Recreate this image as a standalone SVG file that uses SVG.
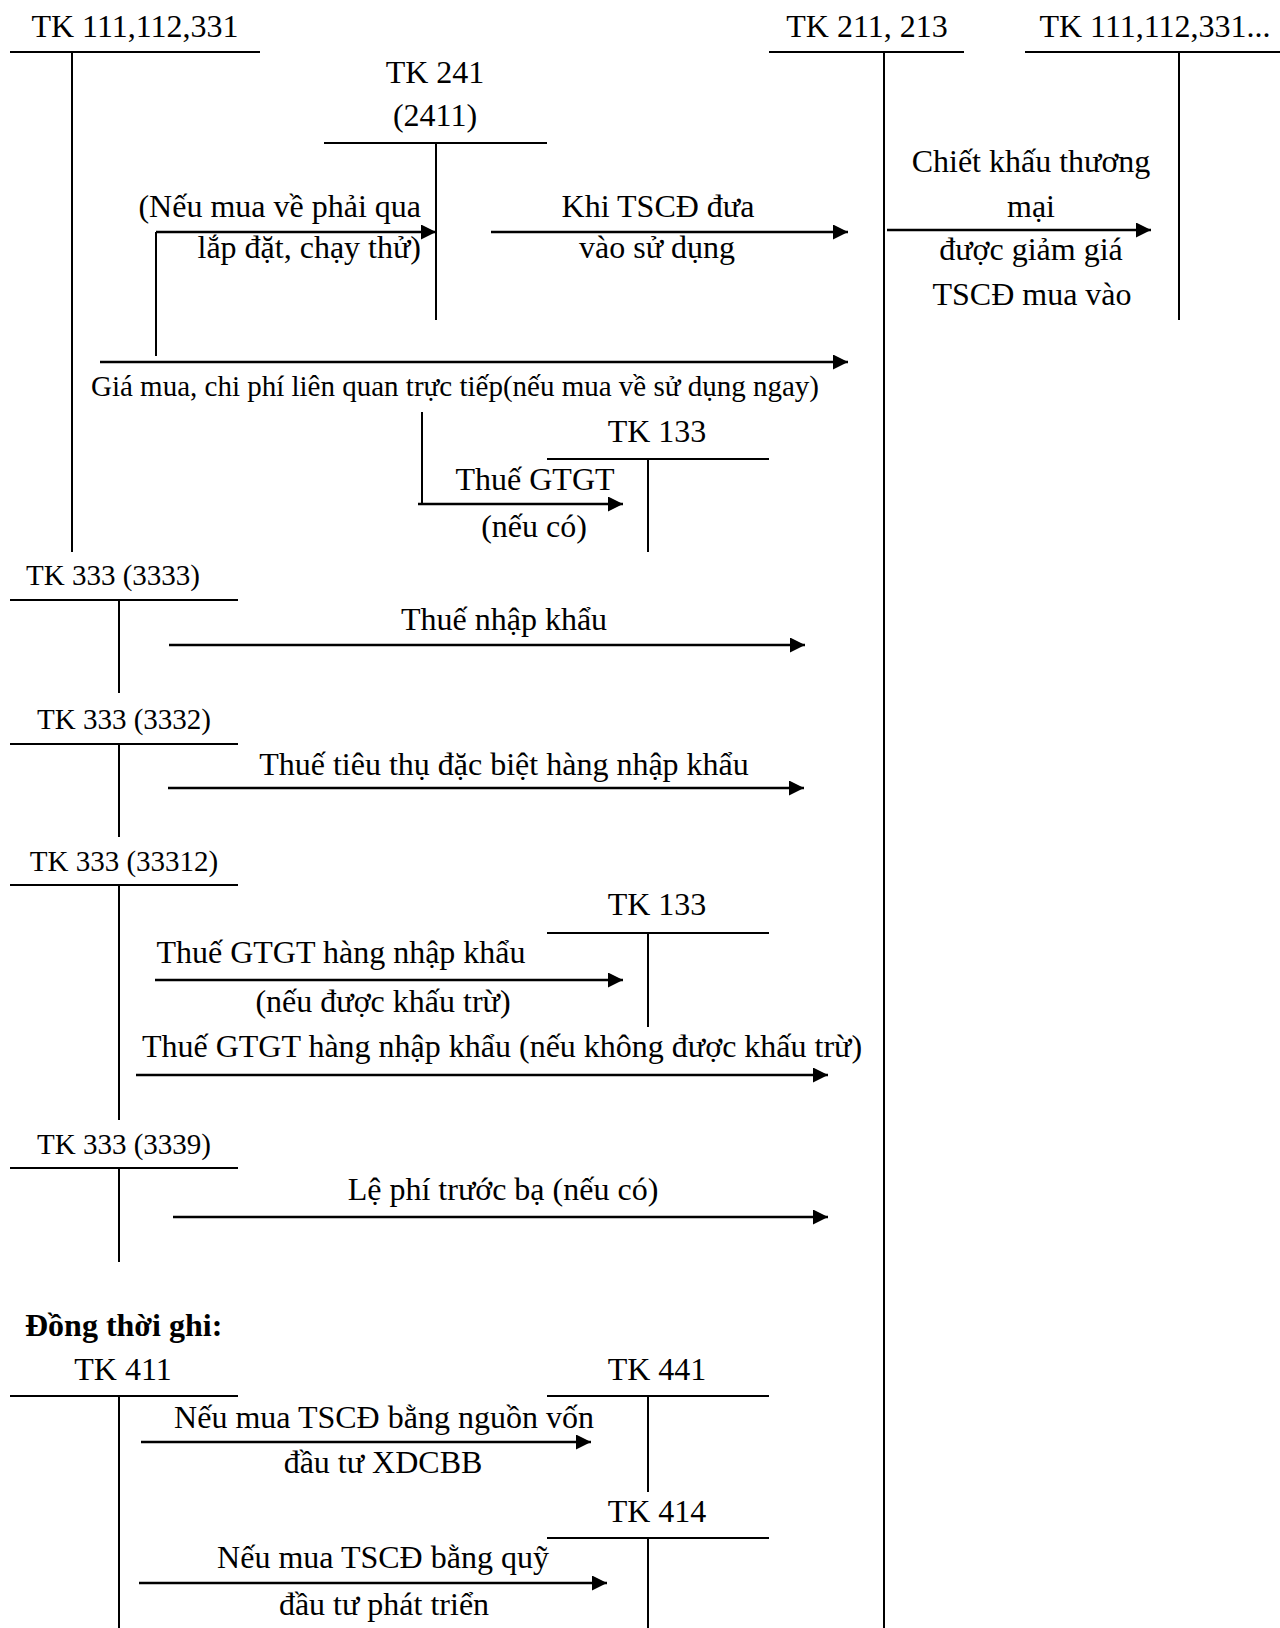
<svg xmlns="http://www.w3.org/2000/svg" width="1280" height="1628" viewBox="0 0 1280 1628">
  <defs>
    <marker id="arrow" markerUnits="userSpaceOnUse" markerWidth="16" markerHeight="16" refX="15" refY="7.5" orient="auto">
      <path d="M0,0 L15,7.5 L0,15 z" fill="#000"/>
    </marker>
    <style>
      text { font-family: "Liberation Serif", "Times New Roman", serif; font-size: 32px; fill: #000; }
      .c { text-anchor: middle; }
      .e { text-anchor: end; }
      .sm { font-size: 29px; }
      .b { font-weight: bold; font-size: 32px; }
      .t { stroke: #000; stroke-width: 2; fill: none; }
      .a { stroke: #000; stroke-width: 2.5; fill: none; marker-end: url(#arrow); }
      .l { stroke: #000; stroke-width: 2; fill: none; }
    </style>
  </defs>
  <rect width="1280" height="1628" fill="#fff"/>

  <!-- T-accounts -->
  <g id="tk111-left">
    <text class="c" x="135" y="37">TK 111,112,331</text>
    <path class="t" d="M10,52 H260 M72,52 V552"/>
  </g>
  <g id="tk241">
    <text class="c" x="435" y="83">TK 241</text>
    <text class="c" x="435" y="126">(2411)</text>
    <path class="t" d="M324,143 H547 M436,143 V320"/>
  </g>
  <g id="tk211">
    <text class="c" x="867" y="37">TK 211, 213</text>
    <path class="t" d="M769,52 H964 M884,52 V1628"/>
  </g>
  <g id="tk111-right">
    <text class="c" x="1155" y="37">TK 111,112,331...</text>
    <path class="t" d="M1025,52 H1280 M1179,52 V320"/>
  </g>
  <g id="tk133-a">
    <text class="c" x="657" y="442">TK 133</text>
    <path class="t" d="M547,459 H769 M648,459 V552"/>
  </g>
  <g id="tk3333">
    <text class="c sm" x="113" y="585">TK 333 (3333)</text>
    <path class="t" d="M10,600 H238 M119,600 V693"/>
  </g>
  <g id="tk3332">
    <text class="c sm" x="124" y="729">TK 333 (3332)</text>
    <path class="t" d="M10,744 H238 M119,744 V837"/>
  </g>
  <g id="tk33312">
    <text class="c sm" x="124" y="871">TK 333 (33312)</text>
    <path class="t" d="M10,885 H238 M119,885 V1120"/>
  </g>
  <g id="tk133-b">
    <text class="c" x="657" y="915">TK 133</text>
    <path class="t" d="M547,933 H769 M648,933 V1027"/>
  </g>
  <g id="tk3339">
    <text class="c sm" x="124" y="1154">TK 333 (3339)</text>
    <path class="t" d="M10,1168 H238 M119,1168 V1262"/>
  </g>
  <g id="note">
    <text class="b" x="25" y="1336">Đồng thời ghi:</text>
  </g>
  <g id="tk411">
    <text class="c" x="123" y="1380">TK 411</text>
    <path class="t" d="M10,1396 H238 M119,1396 V1628"/>
  </g>
  <g id="tk441">
    <text class="c" x="657" y="1380">TK 441</text>
    <path class="t" d="M547,1396 H769 M648,1396 V1492"/>
  </g>
  <g id="tk414">
    <text class="c" x="657" y="1522">TK 414</text>
    <path class="t" d="M547,1538 H769 M648,1538 V1628"/>
  </g>

  <!-- Entries -->
  <g id="connectors">
    <path class="l" d="M156,356 V232"/>
    <path class="a" d="M156,232 H436"/>
    <path class="a" d="M491,232 H848"/>
    <path class="a" d="M887,230 H1151"/>
    <path class="a" d="M100,362 H848"/>
    <path class="l" d="M422,412 V504"/>
    <path class="a" d="M418,504 H623"/>
    <path class="a" d="M169,645 H805"/>
    <path class="a" d="M168,788 H804"/>
    <path class="a" d="M155,980 H623"/>
    <path class="a" d="M136,1075 H828"/>
    <path class="a" d="M173,1217 H828"/>
    <path class="a" d="M141,1442 H591"/>
    <path class="a" d="M139,1583 H607"/>
  </g>

  <g id="labels">
    <text class="e" x="421" y="217">(Nếu mua về phải qua</text>
    <text class="e" x="421" y="258">lắp đặt, chạy thử)</text>
    <text class="c" x="658" y="217">Khi TSCĐ đưa</text>
    <text class="c" x="657" y="258">vào sử dụng</text>
    <text class="c" x="1031" y="172">Chiết khấu thương</text>
    <text class="c" x="1031" y="217">mại</text>
    <text class="c" x="1031" y="260">được giảm giá</text>
    <text class="c" x="1032" y="305">TSCĐ mua vào</text>
    <text class="c sm" x="455" y="396">Giá mua, chi phí liên quan trực tiếp(nếu mua về sử dụng ngay)</text>
    <text class="c" x="535" y="490">Thuế GTGT</text>
    <text class="c" x="534" y="537">(nếu có)</text>
    <text class="c" x="504" y="630">Thuế nhập khẩu</text>
    <text class="c" x="504" y="775">Thuế tiêu thụ đặc biệt hàng nhập khẩu</text>
    <text class="c" x="341" y="963">Thuế GTGT hàng nhập khẩu</text>
    <text class="c" x="383" y="1012">(nếu được khấu trừ)</text>
    <text class="c" x="502" y="1057">Thuế GTGT hàng nhập khẩu (nếu không được khấu trừ)</text>
    <text class="c" x="503" y="1200">Lệ phí trước bạ (nếu có)</text>
    <text class="c" x="384" y="1428">Nếu mua TSCĐ bằng nguồn vốn</text>
    <text class="c" x="383" y="1473">đầu tư XDCBB</text>
    <text class="c" x="383" y="1568">Nếu mua TSCĐ bằng quỹ</text>
    <text class="c" x="384" y="1615">đầu tư phát triển</text>
  </g>
</svg>
